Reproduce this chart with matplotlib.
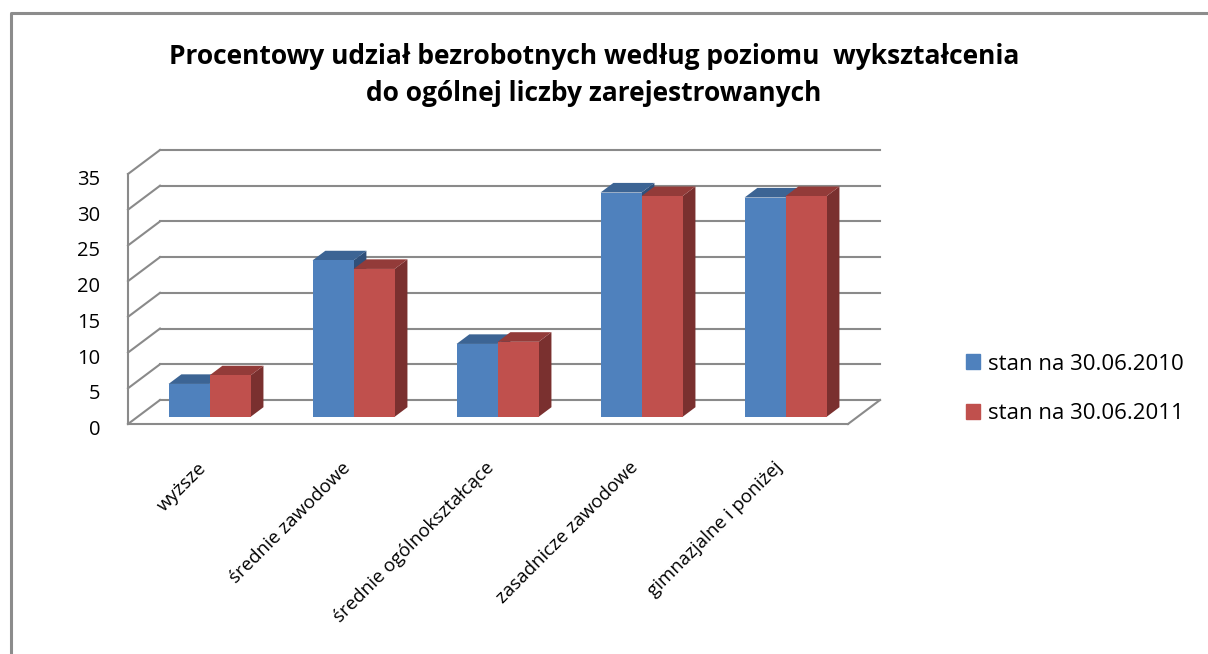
import matplotlib
matplotlib.use('Agg')
import matplotlib.pyplot as plt
from matplotlib.patches import Polygon, Patch
from matplotlib.lines import Line2D
from matplotlib.transforms import IdentityTransform
import numpy as np

# ---- data ----
categories = ['wyższe', 'średnie zawodowe', 'średnie ogólnokształcące',
              'zasadnicze zawodowe', 'gimnazjalne i poniżej']
s2010 = [4.6, 21.9, 10.2, 31.4, 30.7]
s2011 = [5.8, 20.7, 10.5, 30.9, 30.9]
series_names = ['stan na 30.06.2010', 'stan na 30.06.2011']
yticks = [0, 5, 10, 15, 20, 25, 30, 35]
title = 'Procentowy udział bezrobotnych według poziomu  wykształcenia\ndo ogólnej liczby zarejestrowanych'

# ---- styles ----
FONT = 'Open Sans'
blue = dict(front='#4F81BD', top='#3C6494', side='#30507A')
red = dict(front='#C0504D', top='#933B39', side='#7A302F')
grid_c = '#8a8a8a'

W, H = 1208, 654
fig = plt.figure(figsize=(W / 100, H / 100), dpi=100)
fig.patch.set_facecolor('white')

# axes = plane of the bar front faces
ax = fig.add_axes([137.6 / W, (H - 416.8) / H, 720 / W, 250 / H])
ax.set_xlim(-0.5, 4.5)
ax.set_ylim(0, 35)
ax.axis('off')

D = np.array([32.0, 24.0])   # full depth vector in pixels (front -> back)
F0, F1 = 0.3, 0.7            # bar depth span


def P(x, v, depth):
    return ax.transData.transform((x, v)) + (depth - F0) * D


def line(p, q, z=1, lw=1.5):
    ax.add_line(Line2D([p[0], q[0]], [p[1], q[1]], color=grid_c, lw=lw,
                       transform=IdentityTransform(), clip_on=False, zorder=z))


x0, x1 = ax.get_xlim()
# back wall gridlines and left side wall
for v in yticks:
    line(P(x0, v, 1), P(x1, v, 1))
    line(P(x0, v, 0), P(x0, v, 1))
# front vertical axis
line(P(x0, 0, 0), P(x0, yticks[-1], 0))
# floor front edge + right edge
line(P(x0, 0, 0), P(x1, 0, 0))
line(P(x1, 0, 0), P(x1, 0, 1))

# tick labels
for v in yticks:
    p = P(x0, v, 0) + np.array([-28, -11])
    ax.text(p[0], p[1], str(v), transform=IdentityTransform(), ha='right',
            va='baseline', fontsize=14.5, family=FONT, color='#000000')

# bars
bw = 0.285
xs = np.arange(len(categories))
z = 5
for k, (vals, col) in enumerate([(s2010, blue), (s2011, red)]):
    lefts = xs - bw + k * bw
    for xl, v in zip(lefts, vals):
        xr = xl + bw
        side = [P(xr, 0, F0), P(xr, v, F0), P(xr, v, F1), P(xr, 0, F1)]
        top = [P(xl, v, F0), P(xr, v, F0), P(xr, v, F1), P(xl, v, F1)]
        ax.add_patch(Polygon(side, closed=True, facecolor=col['side'], edgecolor='none',
                             transform=IdentityTransform(), clip_on=False, zorder=z))
        ax.add_patch(Polygon(top, closed=True, facecolor=col['top'], edgecolor='none',
                             transform=IdentityTransform(), clip_on=False, zorder=z + 1))
    ax.bar(lefts, vals, width=bw, align='edge', color=col['front'],
           edgecolor='none', zorder=z + 2, clip_on=False)
    z += 3

# category labels
for i, c in enumerate(categories):
    p = P(i, 0, 0) + np.array([3.5, -41])
    ax.text(p[0], p[1], c, transform=IdentityTransform(), rotation=45,
            rotation_mode='anchor', ha='right', va='center', fontsize=13.5,
            family=FONT, color='#000000')

# title
fig.text(594 / W, 1 - 75 / H, title, ha='center', va='center', fontsize=19,
         fontweight='bold', family=FONT, linespacing=1.45, color='#000000')

# legend
fig.legend([Patch(color=blue['front']), Patch(color=red['front'])], series_names,
           loc='center left', bbox_to_anchor=(966 / W, 1 - 389 / H),
           frameon=False, prop={'family': FONT, 'size': 16},
           handlelength=0.64, handleheight=0.64, handletextpad=0.36,
           labelspacing=1.3, borderaxespad=0, borderpad=0)

# outer border (top and left visible)
fig.add_artist(Line2D([10.5 / W, 10.5 / W, 1.0], [0.0, 1 - 12.5 / H, 1 - 12.5 / H],
                      transform=fig.transFigure, color='#8c8c8c', lw=2.2))

fig.savefig('out.png', dpi=100)
